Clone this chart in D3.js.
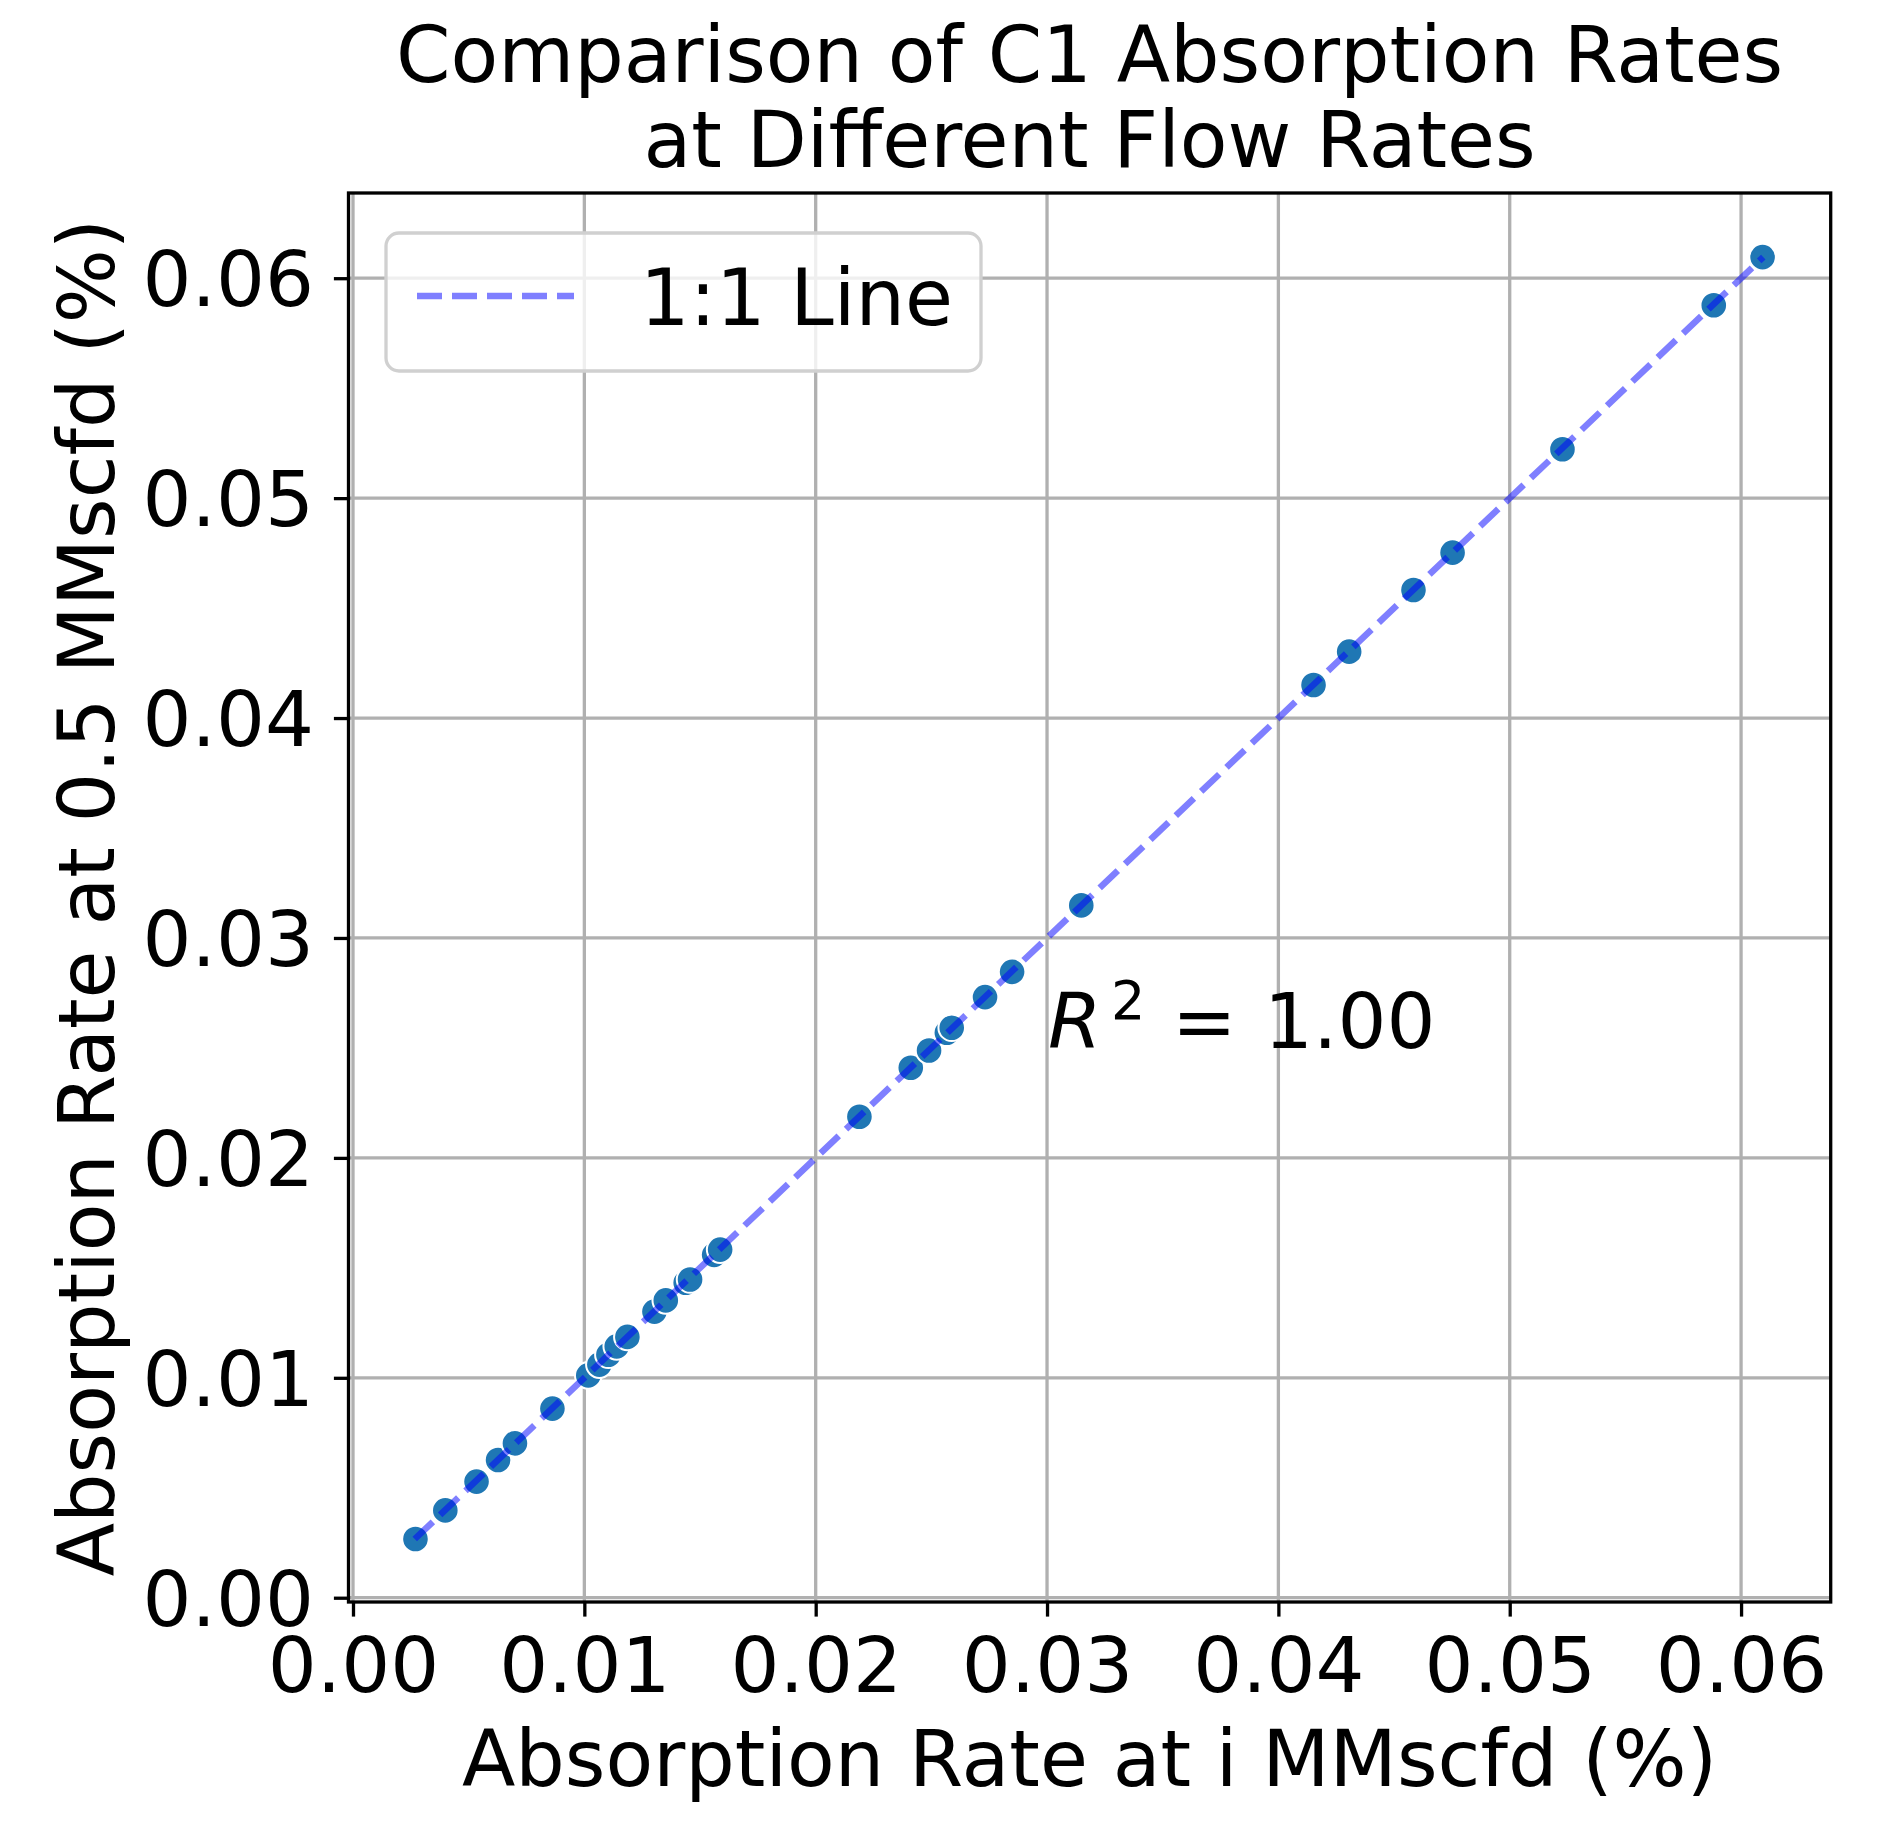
<!DOCTYPE html>
<html>
<head>
<meta charset="utf-8">
<script src="https://cdn.jsdelivr.net/npm/d3@7"></script>
<style>
  body { margin: 0; background: #fff; }
  svg { display: block; font-family: "DejaVu Sans", sans-serif; }
</style>
</head>
<body>
<div id="chart"></div>
<script>
// --- Data ---
// absorption rate at i MMscfd (x) vs at 0.5 MMscfd (y), in %
const rateAtI = [
  0.00270, 0.00399, 0.00534, 0.00627, 0.00700, 0.00862, 0.01017, 0.01065,
  0.01104, 0.01140, 0.01186, 0.01303, 0.01352, 0.01438, 0.01457, 0.01561,
  0.01587, 0.02189, 0.02411, 0.02490, 0.02567, 0.02588, 0.02732, 0.02849,
  0.03148, 0.04152, 0.04306, 0.04584, 0.04753, 0.05228, 0.05882, 0.06093
];
const rateAtHalf = [
  0.00267, 0.00397, 0.00528, 0.00626, 0.00702, 0.00860, 0.01011, 0.01060,
  0.01105, 0.01143, 0.01186, 0.01301, 0.01352, 0.01432, 0.01447, 0.01559,
  0.01583, 0.02187, 0.02410, 0.02488, 0.02569, 0.02592, 0.02731, 0.02846,
  0.03148, 0.04150, 0.04302, 0.04582, 0.04752, 0.05222, 0.05877, 0.06096
];
const xTicks = [0, 0.01, 0.02, 0.03, 0.04, 0.05, 0.06];
const yTicks = [0, 0.01, 0.02, 0.03, 0.04, 0.05, 0.06];
const titleLines = ["Comparison of C1 Absorption Rates", "at Different Flow Rates"];
const xLabel = "Absorption Rate at i MMscfd (%)";
const yLabel = "Absorption Rate at 0.5 MMscfd (%)";
const legendLabel = "1:1 Line";
const r2Value = 1.00;

// --- Layout ---
const W = 1881, H = 1833;
const plot = { left: 348.5, right: 1830.7, top: 193, bottom: 1602 };

const points = rateAtI.map((d, i) => ({ x: d, y: rateAtHalf[i] }));

// 1:1 line spans the combined min/max, axes get a 5% margin like matplotlib
const lo = d3.min([d3.min(rateAtI), d3.min(rateAtHalf)]);
const hi = d3.max([d3.max(rateAtI), d3.max(rateAtHalf)]);
const pad = (hi - lo) * 0.05;

const x = d3.scaleLinear().domain([lo - pad + 0.00005, hi + pad]).range([plot.left, plot.right]);
const y = d3.scaleLinear().domain([lo - pad + 0.00005, hi + pad]).range([plot.bottom, plot.top]);

const svg = d3.select("#chart").append("svg")
  .attr("width", W)
  .attr("height", H);

// grid
const grid = svg.append("g").attr("stroke", "#b0b0b0").attr("stroke-width", 3.3);
grid.selectAll("line.gx").data(xTicks).join("line")
  .attr("class", "gx")
  .attr("x1", d => x(d)).attr("x2", d => x(d))
  .attr("y1", plot.top).attr("y2", plot.bottom);
grid.selectAll("line.gy").data(yTicks).join("line")
  .attr("class", "gy")
  .attr("y1", d => y(d)).attr("y2", d => y(d))
  .attr("x1", plot.left).attr("x2", plot.right);

// scatter points
svg.append("g").selectAll("circle").data(points).join("circle")
  .attr("cx", d => x(d.x))
  .attr("cy", d => y(d.y))
  .attr("r", 13.3)
  .attr("fill", "#1f77b4")
  .attr("stroke", "#fff")
  .attr("stroke-width", 2);

// 1:1 reference line (drawn over the points)
svg.append("path")
  .datum([[lo, lo], [hi, hi]])
  .attr("d", d3.line().x(d => x(d[0])).y(d => y(d[1])))
  .attr("fill", "none")
  .attr("stroke", "blue")
  .attr("stroke-opacity", 0.5)
  .attr("stroke-width", 6.5)
  .attr("stroke-dasharray", "25 10");

// axes
const fmt = d3.format(".2f");
const xAxis = svg.append("g")
  .attr("transform", `translate(0,${plot.bottom})`)
  .call(d3.axisBottom(x).tickValues(xTicks).tickFormat(fmt).tickSize(14.6).tickPadding(21));
const yAxis = svg.append("g")
  .attr("transform", `translate(${plot.left},0)`)
  .call(d3.axisLeft(y).tickValues(yTicks).tickFormat(fmt).tickSize(14.6).tickPadding(20));

[xAxis, yAxis].forEach(a => {
  a.select(".domain").remove();
  a.selectAll(".tick line").attr("stroke", "#000").attr("stroke-width", 3.3);
  a.selectAll(".tick text")
    .attr("fill", "#000")
    .style("font-family", "DejaVu Sans")
    .style("font-size", "77px");
});
yAxis.selectAll(".tick text").attr("dy", "0.36em");

// frame
svg.append("rect")
  .attr("x", plot.left).attr("y", plot.top)
  .attr("width", plot.right - plot.left)
  .attr("height", plot.bottom - plot.top)
  .attr("fill", "none")
  .attr("stroke", "#000")
  .attr("stroke-width", 3.3);

// title
const cx = (plot.left + plot.right) / 2;
svg.append("text")
  .attr("text-anchor", "middle")
  .style("font-size", "78px")
  .selectAll("tspan").data(titleLines).join("tspan")
  .attr("x", cx)
  .attr("y", (d, i) => 82 + i * 85)
  .text(d => d);

// axis labels
svg.append("text")
  .attr("x", cx).attr("y", 1786)
  .attr("text-anchor", "middle")
  .style("font-size", "78px")
  .text(xLabel);

svg.append("text")
  .attr("transform", `translate(114,${(plot.top + plot.bottom) / 2}) rotate(-90)`)
  .attr("text-anchor", "middle")
  .style("font-size", "78px")
  .text(yLabel);

// R^2 annotation
const rx = x(0.03), ry = y(0.025);
const r2 = svg.append("text").style("font-size", "77px");
r2.append("tspan").attr("x", rx + 1).attr("y", ry).style("font-style", "italic").text("R");
r2.append("tspan").attr("x", rx + 64).attr("y", ry - 29).style("font-size", "54px").text("2");
r2.append("tspan").attr("x", rx + 125).attr("y", ry).text("=");
r2.append("tspan").attr("x", rx + 217).attr("y", ry).text(r2Value.toFixed(2));

// legend
const lg = svg.append("g");
lg.append("rect")
  .attr("x", 386).attr("y", 233)
  .attr("width", 595).attr("height", 138)
  .attr("rx", 13)
  .attr("fill", "#fff").attr("fill-opacity", 0.8)
  .attr("stroke", "#d0d0d0").attr("stroke-width", 3.3);
lg.append("line")
  .attr("x1", 417).attr("x2", 574)
  .attr("y1", 296).attr("y2", 296)
  .attr("stroke", "blue").attr("stroke-opacity", 0.5)
  .attr("stroke-width", 6.5)
  .attr("stroke-dasharray", "25 10");
lg.append("text")
  .attr("x", 640).attr("y", 325)
  .style("font-size", "78px")
  .text(legendLabel);
</script>
</body>
</html>
